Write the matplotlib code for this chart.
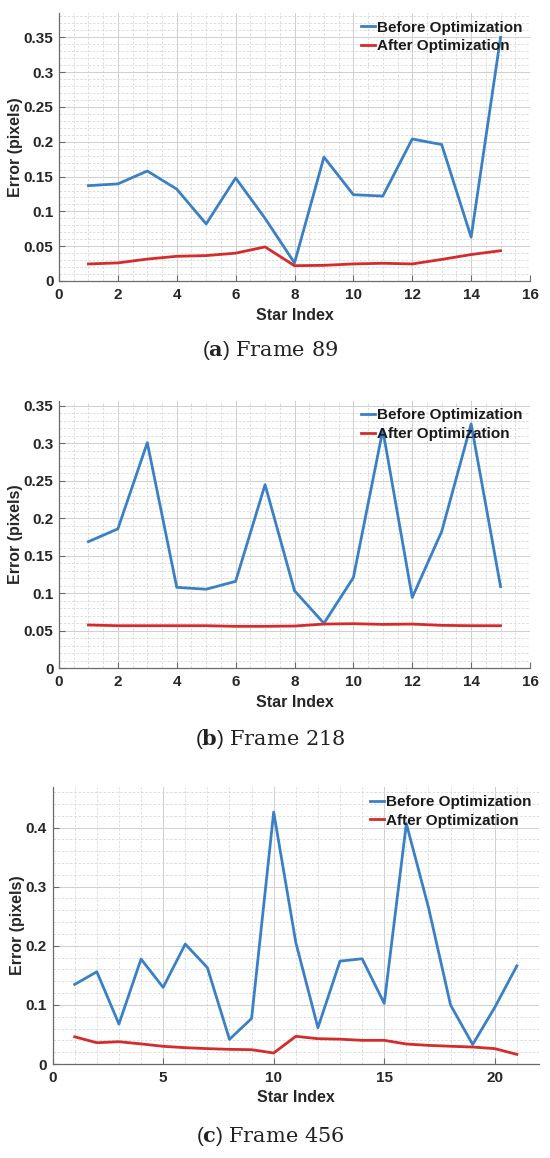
import matplotlib
matplotlib.use("Agg")
import matplotlib.pyplot as plt
from matplotlib.ticker import MultipleLocator, FuncFormatter

plt.rcParams['font.family'] = ['Liberation Sans', 'DejaVu Sans']
plt.rcParams['mathtext.fontset'] = 'custom'
plt.rcParams['mathtext.rm'] = 'DejaVu Serif:normal'
plt.rcParams['mathtext.bf'] = 'DejaVu Serif:bold'

BLUE = '#3a80c6'
RED = '#d42b2b'

# frame 89
stars_a = list(range(1, 16))
before_a = [0.137, 0.1395, 0.158, 0.132, 0.082, 0.148, 0.090, 0.026,
            0.178, 0.124, 0.122, 0.204, 0.196, 0.063, 0.350]
after_a = [0.0245, 0.026, 0.0315, 0.0355, 0.0365, 0.040, 0.049, 0.022,
           0.0225, 0.0245, 0.0255, 0.0245, 0.031, 0.038, 0.0435]

# frame 218
stars_b = list(range(1, 16))
before_b = [0.169, 0.186, 0.301, 0.108, 0.1055, 0.116, 0.245, 0.1035,
            0.060, 0.121, 0.318, 0.0945, 0.1825, 0.326, 0.109]
after_b = [0.0578, 0.0568, 0.0568, 0.0568, 0.0568, 0.056, 0.056, 0.0564,
           0.059, 0.0595, 0.0586, 0.059, 0.0573, 0.0568, 0.0568]

# frame 456
stars_c = list(range(1, 22))
before_c = [0.1346, 0.156, 0.0676, 0.1775, 0.1296, 0.2028, 0.163, 0.0417,
            0.077, 0.426, 0.2056, 0.0614, 0.174, 0.178, 0.1025, 0.4067,
            0.265, 0.0997, 0.033, 0.0958, 0.166]
after_c = [0.046, 0.036, 0.0377, 0.034, 0.0299, 0.0276, 0.026, 0.0248,
           0.0242, 0.0186, 0.0468, 0.0428, 0.042, 0.040, 0.040, 0.0338,
           0.0315, 0.030, 0.0287, 0.026, 0.0163]

panels = [
    dict(x=stars_a, b=before_a, a=after_a, rect=[59, 13, 530, 281],
         xlim=16, ylim=0.385, xmaj=2, xmin=0.5, ymaj=0.05, ymin=0.01,
         cap='a', frame='89', cap_y=351),
    dict(x=stars_b, b=before_b, a=after_b, rect=[59, 400.7, 530, 668.3],
         xlim=16, ylim=0.357, xmaj=2, xmin=0.5, ymaj=0.05, ymin=0.01,
         cap='b', frame='218', cap_y=739),
    dict(x=stars_c, b=before_c, a=after_c, rect=[52.6, 787.3, 539, 1064],
         xlim=22, ylim=0.468, xmaj=5, xmin=1, ymaj=0.1, ymin=0.02,
         cap='c', frame='456', cap_y=1137),
]

W, H = 550, 1158
fig = plt.figure(figsize=(W / 100, H / 100), dpi=100)


def fmt(v, pos):
    return ('%.2f' % v).rstrip('0').rstrip('.')


for p in panels:
    l, t, r, b = p['rect']
    ax = fig.add_axes([l / W, 1 - b / H, (r - l) / W, (b - t) / H])
    ax.plot(p['x'], p['b'], color=BLUE, lw=2.0, label='Before Optimization')
    ax.plot(p['x'], p['a'], color=RED, lw=2.0, label='After Optimization')
    ax.set_xlim(0, p['xlim'])
    ax.set_ylim(0, p['ylim'])
    ax.xaxis.set_major_locator(MultipleLocator(p['xmaj']))
    ax.xaxis.set_minor_locator(MultipleLocator(p['xmin']))
    ax.yaxis.set_major_locator(MultipleLocator(p['ymaj']))
    ax.yaxis.set_minor_locator(MultipleLocator(p['ymin']))
    ax.yaxis.set_major_formatter(FuncFormatter(fmt))
    ax.grid(which='major', color='#cfcfcf', lw=0.7, ls='-')
    ax.grid(which='minor', color='#d8d8d8', lw=0.6, ls=(0, (3, 2)))
    ax.set_axisbelow(True)
    for s in ['top', 'right']:
        ax.spines[s].set_visible(False)
    for s in ['left', 'bottom']:
        ax.spines[s].set_color('#6a6a6a')
        ax.spines[s].set_linewidth(0.9)
    ax.tick_params(which='major', direction='in', length=4, width=0.8,
                   color='#6a6a6a', labelsize=11, labelcolor='#262626')
    ax.tick_params(axis='x', which='major', pad=5)
    ax.tick_params(axis='y', which='major', pad=4)
    ax.tick_params(which='minor', length=0)
    for lab in ax.get_xticklabels() + ax.get_yticklabels():
        lab.set_fontweight('bold')
    ax.set_xlabel('Star Index', fontsize=11.5, fontweight='bold',
                  labelpad=4, color='#262626')
    ax.set_ylabel('Error (pixels)', fontsize=11.5, fontweight='bold',
                  labelpad=0.5, color='#262626')
    leg = ax.legend(loc='upper right', frameon=False, fontsize=11,
                    handlelength=0.9, handletextpad=0.15, labelspacing=0.3,
                    borderaxespad=0.3, borderpad=0.2)
    for txt in leg.get_texts():
        txt.set_fontweight('bold')
        txt.set_color('#1a1a1a')
    fig.text(270 / W, 1 - p['cap_y'] / H,
             r'($\mathbf{%s}$) $\mathrm{Frame\ %s}$' % (p['cap'], p['frame']),
             ha='center', va='center', fontsize=15, color='#222222')

fig.savefig('out.png', dpi=100)
